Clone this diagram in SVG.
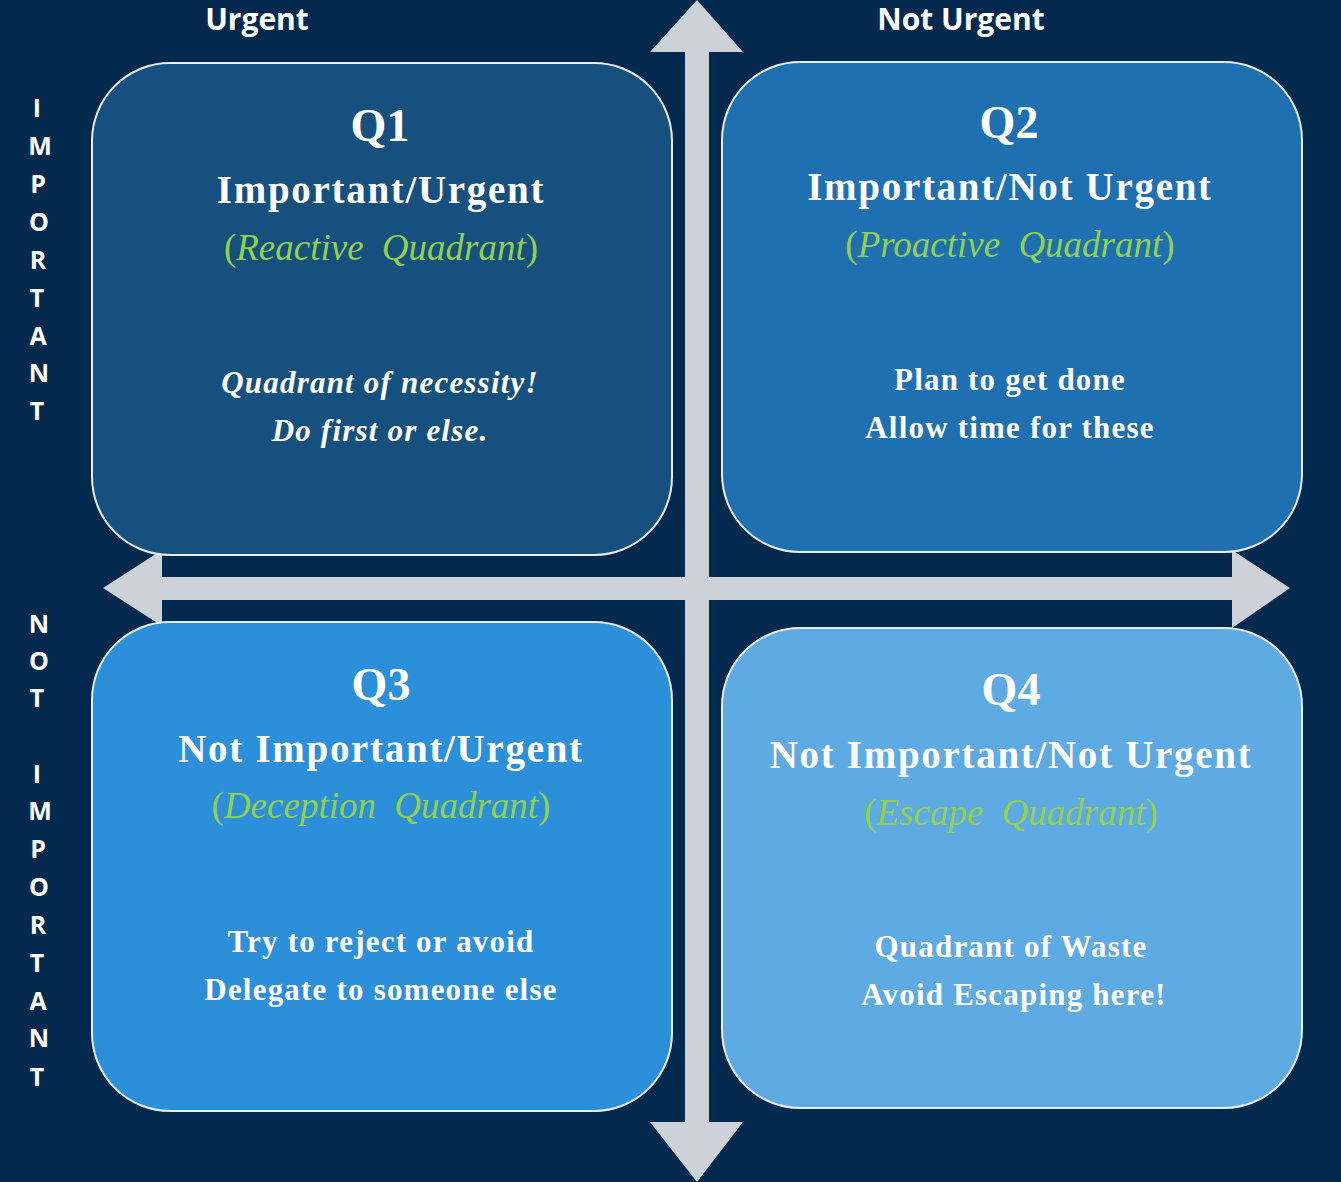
<svg xmlns="http://www.w3.org/2000/svg" width="1341" height="1182" viewBox="0 0 1341 1182">
<style>
.axis{font-family:"Open Sans","Liberation Sans",sans-serif;font-weight:bold;fill:#ffffff;font-size:30px;text-anchor:middle}
.side{font-family:"Open Sans","Liberation Sans",sans-serif;font-weight:bold;fill:#ffffff;font-size:25px;text-anchor:middle}
.box{stroke:#e8eef5;stroke-width:2}
.q{font-family:"Liberation Serif","Times New Roman",serif;font-weight:bold;fill:#ffffff;font-size:46px;text-anchor:middle}
.t{font-family:"Liberation Serif","Times New Roman",serif;font-weight:bold;fill:#ffffff;font-size:39px;text-anchor:middle;letter-spacing:1.7px}
.g{font-family:"Liberation Serif","Times New Roman",serif;fill:#92d050;font-size:37px;text-anchor:middle;word-spacing:9px}
.gi{font-style:italic}
.b{font-family:"Liberation Serif","Times New Roman",serif;font-weight:bold;fill:#ffffff;font-size:31px;text-anchor:middle;letter-spacing:1.2px}
.bi{font-style:italic}
.arrow{fill:#cdd1d8}
</style>
<rect x="0" y="0" width="1341" height="1182" fill="#03294f"/>
<g id="connectors">
<polygon class="arrow" points="697,0 743,52 709,52 709,1122 743,1122 697,1182 650,1122 685,1122 685,52 650,52"/>
<polygon class="arrow" points="103,588 162,550 162,577 1232,577 1232,550 1290,588 1232,628 1232,600 162,600 162,626"/>
</g>
<g id="axis-labels">
<text class="axis" x="257" y="30">Urgent</text>
<text class="axis" x="961" y="30">Not Urgent</text>
<text class="side" x="37" y="117">I</text>
<text class="side" x="40" y="155">M</text>
<text class="side" x="38" y="193">P</text>
<text class="side" x="39" y="231">O</text>
<text class="side" x="38" y="269">R</text>
<text class="side" x="37" y="307">T</text>
<text class="side" x="38" y="345">A</text>
<text class="side" x="39" y="382">N</text>
<text class="side" x="37" y="420">T</text>
<text class="side" x="39" y="633">N</text>
<text class="side" x="39" y="670">O</text>
<text class="side" x="37" y="707">T</text>
<text class="side" x="37" y="783">I</text>
<text class="side" x="40" y="820">M</text>
<text class="side" x="38" y="858">P</text>
<text class="side" x="39" y="896">O</text>
<text class="side" x="38" y="934">R</text>
<text class="side" x="37" y="972">T</text>
<text class="side" x="38" y="1010">A</text>
<text class="side" x="39" y="1047">N</text>
<text class="side" x="37" y="1086">T</text>
</g>
<g id="q1">
<rect class="box" x="92" y="63" width="580" height="492" rx="78" fill="#15507e"/>
<text class="q" x="380" y="141">Q1</text>
<text class="t" x="381" y="203">Important/Urgent</text>
<text class="g" x="381" y="260">(<tspan class="gi">Reactive Quadrant</tspan>)</text>
<text class="b bi" x="380" y="393">Quadrant of necessity!</text>
<text class="b bi" x="380" y="441">Do first or else.</text>
</g>
<g id="q2">
<rect class="box" x="722" y="62" width="580" height="490" rx="78" fill="#1f70b0"/>
<text class="q" x="1009" y="138">Q2</text>
<text class="t" x="1010" y="200">Important/Not Urgent</text>
<text class="g" x="1010" y="257">(<tspan class="gi">Proactive Quadrant</tspan>)</text>
<text class="b" x="1010" y="390">Plan to get done</text>
<text class="b" x="1010" y="438">Allow time for these</text>
</g>
<g id="q3">
<rect class="box" x="92" y="622" width="580" height="489" rx="78" fill="#2b8fda"/>
<text class="q" x="381" y="700">Q3</text>
<text class="t" x="381" y="762">Not Important/Urgent</text>
<text class="g" x="381" y="818">(<tspan class="gi">Deception Quadrant</tspan>)</text>
<text class="b" x="381" y="952">Try to reject or avoid</text>
<text class="b" x="381" y="1000">Delegate to someone else</text>
</g>
<g id="q4">
<rect class="box" x="722" y="628" width="580" height="480" rx="78" fill="#5eaae2"/>
<text class="q" x="1011" y="705">Q4</text>
<text class="t" x="1011" y="768">Not Important/Not Urgent</text>
<text class="g" x="1011" y="825">(<tspan class="gi">Escape Quadrant</tspan>)</text>
<text class="b" x="1011" y="957">Quadrant of Waste</text>
<text class="b" x="1014" y="1005">Avoid Escaping here!</text>
</g>
</svg>
